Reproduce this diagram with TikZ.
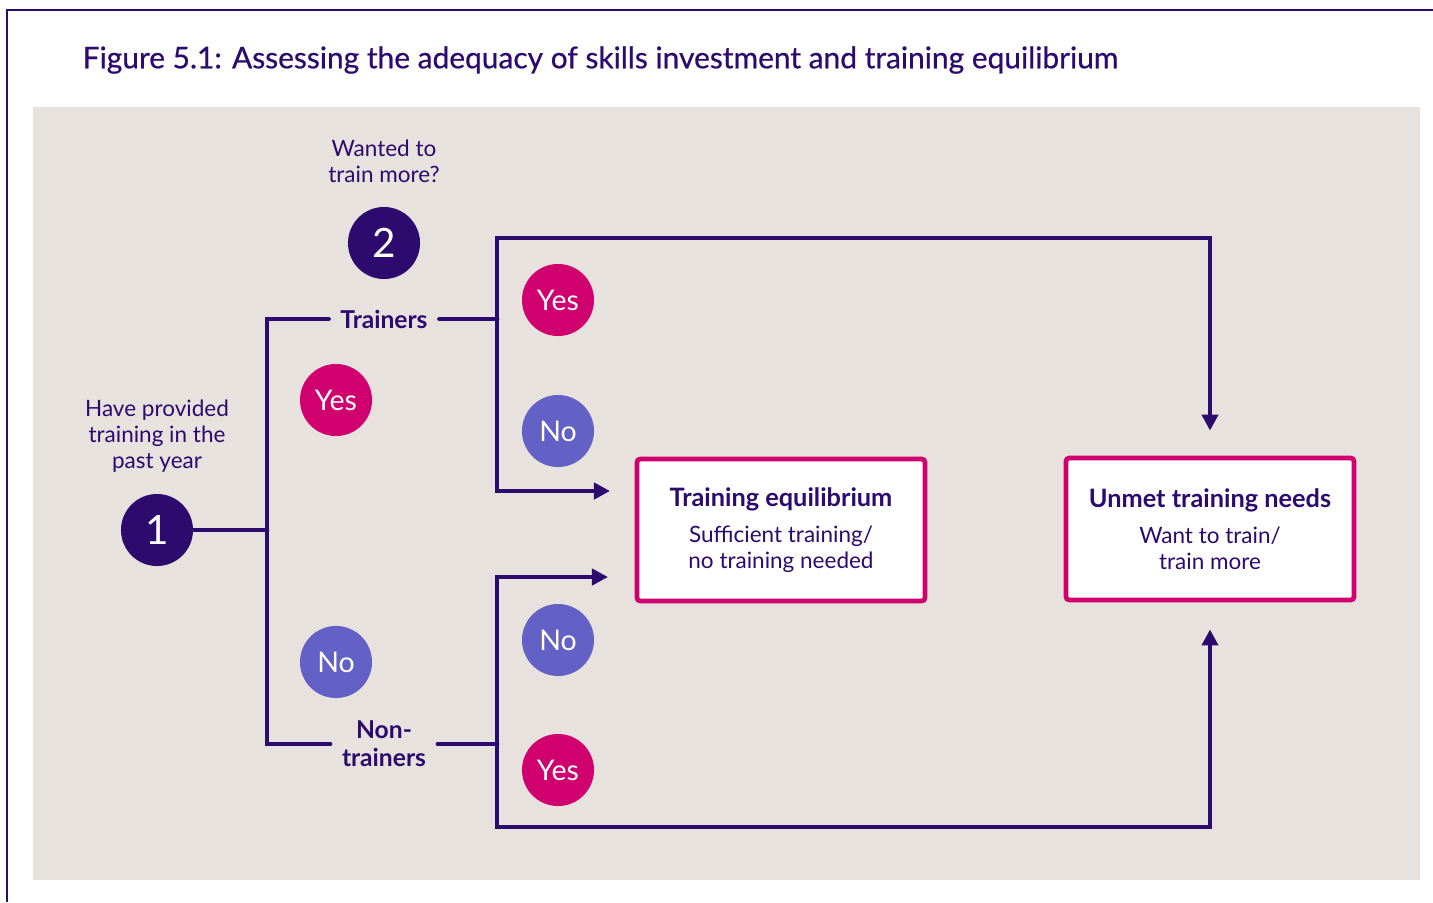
\documentclass[tikz,border=0pt]{standalone}
\usepackage{fontspec}
\setmainfont{Lato}
\usetikzlibrary{
    arrows.meta,
    positioning
}
\definecolor{lmipurple}{RGB}{45,10,110}
\definecolor{lmimagenta}{RGB}{208,0,111}
\definecolor{lmilavender}{RGB}{100,97,198}
\definecolor{lmigray}{RGB}{231,226,222}

\begin{document}
\begin{tikzpicture}[
    x=0.01cm,
    y=-0.01cm,
    every node/.style={text=lmipurple},
    stepnum/.style={
        circle,
        fill=lmipurple,
        minimum size=0.72cm,
        inner sep=0pt,
        text=white,
        font=\fontsize{11.5}{13}\selectfont
    },
    answer/.style={
        circle,
        minimum size=0.72cm,
        inner sep=0pt,
        text=white,
        font=\fontsize{8.1}{9}\selectfont
    },
    yesdot/.style={answer, fill=lmimagenta},
    nodot/.style={answer, fill=lmilavender},
    caption/.style={
        align=center,
        inner sep=0pt,
        font=\fontsize{6.4}{7.35}\selectfont
    },
    branchlbl/.style={
        align=center,
        inner sep=3.2pt,
        font=\bfseries\fontsize{7}{8}\selectfont
    },
    outcome/.style={
        draw=lmimagenta,
        line width=1.35pt,
        rounded corners=1pt,
        fill=white,
        align=center,
        minimum width=2.88cm,
        minimum height=1.42cm,
        font=\fontsize{6.4}{7.35}\selectfont
    },
    flowline/.style={
        draw=lmipurple,
        line width=1.35pt,
        line cap=round,
        line join=miter
    },
    flowarrow/.style={
        flowline,
        {Triangle[length=0.16cm,width=0.16cm]}-{Triangle[length=0.16cm,width=0.16cm]}
    }
]

\useasboundingbox (0,0) rectangle (1433,902);
\draw[lmipurple, line width=0.5pt] (1433,10) -- (7,10) -- (7,902);
\fill[lmigray] (33,107) rectangle (1420,880);

\node[anchor=west, inner sep=0pt, font=\fontsize{8.5}{10}\selectfont\addfontfeatures{FakeBold=0.6}] (title) at (82,60)
    {Figure 5.1: Assessing the adequacy of skills investment and training equilibrium};

\node[caption] (provided) at (157,436) {Have provided\\training in the\\past year};
\node[stepnum] (one) at (157,530) {1};
\node[caption] (wanted) at (384,161) {Wanted to\\train more?};
\node[stepnum] (two) at (384,243) {2};

\node[branchlbl] (trainers) at (384,319) {Trainers};
\node[branchlbl] (nontrainers) at (384,744) {Non-\\trainers};

\node[yesdot] (yesleft) at (336,400) {Yes};
\node[nodot] (noleft) at (336,662) {No};
\node[yesdot] (yestop) at (558,300) {Yes};
\node[nodot] (notop) at (558,431) {No};
\node[nodot] (nobottom) at (558,640) {No};
\node[yesdot] (yesbottom) at (558,770) {Yes};

\node[outcome] (equil) at (781,530) {
    {\bfseries\fontsize{7.2}{8}\selectfont Training equilibrium}\\[2.8pt]
    Sufficient training/\\
    no training needed
};
\node[outcome] (unmet) at (1210,529) {
    {\bfseries\fontsize{7.2}{8}\selectfont Unmet training needs}\\[2.8pt]
    Want to train/\\
    train more
};

\coordinate (lsplit) at (267,530);
\coordinate (tsplit) at (497,319);
\coordinate (ttop) at (497,238);
\coordinate (tend) at (610,491);
\coordinate (nsplit) at (497,744);
\coordinate (nbottom) at (497,827);
\coordinate (nend) at (608,577);

\draw[flowline] (one) -- (lsplit);
\draw[flowline] (trainers) -| (lsplit) |- (nontrainers);
\draw[flowline] (trainers) -- (tsplit);
\draw[flowline] (nontrainers) -- (nsplit);
\draw[flowarrow, shorten >=0.25cm] (tend) -| (ttop) -| (unmet);
\draw[flowarrow, shorten >=0.27cm] (nend) -| (nbottom) -| (unmet);

\end{tikzpicture}
\end{document}
